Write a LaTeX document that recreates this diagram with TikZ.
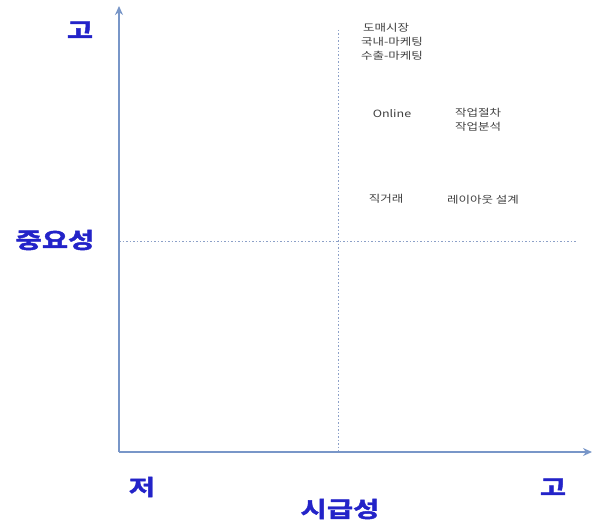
\documentclass[tikz,border=0pt]{standalone}
\usepackage{fontspec}
\newfontfamily\kr[FakeStretch=1.25]{Noto Sans CJK KR}
\newfontfamily\krb[FakeStretch=1.3,FakeBold=2]{Noto Sans CJK KR Bold}
\usetikzlibrary{arrows.meta}
\definecolor{axisc}{RGB}{120,150,200}
\definecolor{dashc}{RGB}{140,160,200}
\definecolor{labc}{RGB}{35,35,200}
\tikzset{
  axis/.style={draw=axisc, line width=1.6pt, -{Stealth[length=9pt,width=8pt]}},
  guide/.style={draw=dashc, line width=0.7pt, dash pattern=on 1.5pt off 2pt},
  biglab/.style={text=labc, font=\krb\fontsize{22}{24}\selectfont, inner sep=0pt},
  small/.style={text=black!75, font=\kr\fontsize{10}{14}\selectfont, inner sep=0pt, align=center}
}
\begin{document}
\begin{tikzpicture}[x=1pt,y=-1pt]
\useasboundingbox (0,0) rectangle (593,529);
\coordinate (o) at (119,452);
\coordinate (ytop) at (119,6);
\coordinate (xend) at (592,452);
\coordinate (vtop) at (338,30);
\coordinate (vbot) at (338,452);
\coordinate (hl) at (119,241);
\coordinate (hr) at (576,241);
\draw[guide] (vtop) -- (vbot);
\draw[guide] (hl) -- (hr);
\draw[axis] (o) -- (ytop);
\draw[axis] (o) -- (xend);
\node[biglab] (yhi) at (80,30) {고};
\node[biglab] (ylab) at (55,240) {중요성};
\node[biglab] (xlo) at (142,487) {저};
\node[biglab] (xlab) at (340,509) {시급성};
\node[biglab] (xhi) at (553,487) {고};
\node[small] (a1) at (386,28) {도매시장};
\node[small] (a2) at (392,42) {국내-마케팅};
\node[small] (a3) at (392,56) {수출-마케팅};
\node[small] (b1) at (392,114) {Online};
\node[small] (c1) at (478,120) {작업절차\\작업분석};
\node[small] (d1) at (386,199) {직거래};
\node[small] (e1) at (483,200) {레이아웃 설계};
\end{tikzpicture}
\end{document}
